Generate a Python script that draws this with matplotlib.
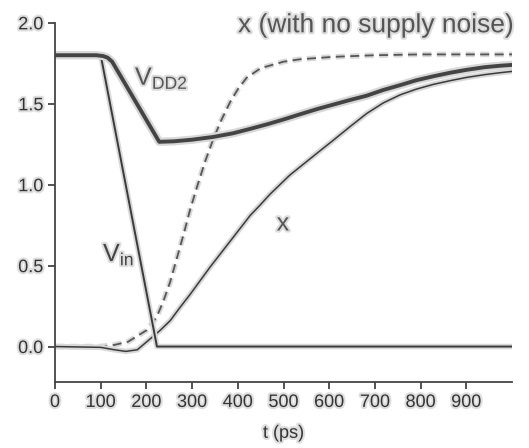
import numpy as np
import matplotlib.pyplot as plt
import matplotlib.patheffects as pe

plt.rcParams["font.family"] = ["Liberation Sans", "DejaVu Sans"]

# 数据
t_vin = [0, 100, 223, 1000]
v_in = [1.8, 1.8, 0.0, 0.0]

t_vdd = [0, 90, 105, 115, 125, 228, 260, 300, 346, 390, 427, 465, 500, 536, 573,
         609, 645, 682, 718, 755, 790, 828, 865, 901, 940, 974, 1000]
v_dd2 = [1.8, 1.8, 1.795, 1.785, 1.76, 1.265, 1.268, 1.278, 1.295, 1.318, 1.345, 1.374,
         1.403, 1.435, 1.467, 1.495, 1.523, 1.55, 1.585, 1.615, 1.645, 1.67, 1.692,
         1.71, 1.726, 1.735, 1.74]

t_x = [0, 100, 130, 155, 180, 208, 230, 252, 273, 295, 317, 339, 361, 383, 405, 427,
       449, 470, 492, 514, 536, 558, 580, 609, 646, 682, 718, 755, 790, 828, 865, 901,
       940, 974, 1000]
v_x = [0.0, -0.005, -0.02, -0.03, -0.02, 0.047, 0.1, 0.16, 0.24, 0.32, 0.405, 0.49,
       0.57, 0.65, 0.73, 0.81, 0.875, 0.94, 1.0, 1.06, 1.11, 1.16, 1.21, 1.275, 1.36,
       1.44, 1.505, 1.555, 1.59, 1.62, 1.643, 1.663, 1.68, 1.692, 1.70]

t_xn = [0, 100, 130, 160, 200, 222, 237, 252, 266, 281, 295, 310, 328, 346, 364, 383,
        400, 419, 450, 500, 536, 609, 700, 800, 900, 1000]
v_xn = [0.0, 0.0, 0.01, 0.03, 0.1, 0.18, 0.28, 0.4, 0.54, 0.69, 0.84, 0.98, 1.14, 1.28,
        1.4, 1.51, 1.59, 1.66, 1.72, 1.76, 1.775, 1.79, 1.80, 1.805, 1.805, 1.805]

line_c = "#3a3a3a"
halo = [pe.withStroke(linewidth=4, foreground="#d8d8d8")]
halo_thick = [pe.withStroke(linewidth=6, foreground="#d8d8d8")]
text_halo = [pe.withStroke(linewidth=3, foreground="#dedede")]

fig = plt.figure(figsize=(5.29, 4.48), dpi=100)
ax = fig.add_axes([0.104, 0.147, 0.864, 0.802])

ax.plot(t_xn, v_xn, color="#555555", lw=1.3, ls=(0, (5, 3)), path_effects=halo)
ax.plot(t_x, v_x, color=line_c, lw=1.1, path_effects=halo)
ax.plot(t_vin, v_in, color=line_c, lw=1.4, path_effects=halo)
ax.plot(t_vdd, v_dd2, color="#444444", lw=2.8, path_effects=halo_thick)

ax.set_xlim(0, 1000)
ax.set_ylim(-0.22, 2.0)
ax.set_xticks(np.arange(0, 1000, 100))
ax.set_yticks([0.0, 0.5, 1.0, 1.5, 2.0])
ax.set_yticklabels(["0.0", "0.5", "1.0", "1.5", "2.0"])
ax.spines["top"].set_visible(False)
ax.spines["right"].set_visible(False)
for s in ["left", "bottom"]:
    ax.spines[s].set_color("#444444")
    ax.spines[s].set_linewidth(1.3)
ax.tick_params(axis="both", direction="out", length=5, width=1.3, color="#444444",
               labelsize=13, labelcolor="#333333")
for lab in ax.get_xticklabels() + ax.get_yticklabels():
    lab.set_path_effects(text_halo)

ax.set_xlabel("t (ps)", fontsize=13, color="#333333", path_effects=text_halo, labelpad=10)

ax.text(1005, 1.985, "x (with no supply noise)", fontsize=19, color="#555555",
        ha="right", va="center", path_effects=text_halo)
ax.text(175, 1.66, r"V$_{\mathregular{DD2}}$", fontsize=18, color="#555555",
        va="center", path_effects=text_halo)
ax.text(105, 0.57, r"V$_{\mathregular{in}}$", fontsize=18, color="#444444",
        va="center", path_effects=text_halo)
ax.text(485, 0.76, "x", fontsize=18, color="#555555", va="center", path_effects=text_halo)

fig.savefig("out.png", dpi=100)
